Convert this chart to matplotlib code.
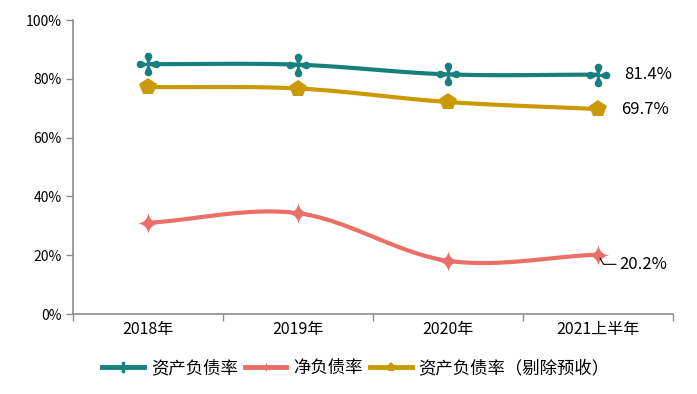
import numpy as np
import matplotlib
matplotlib.use("Agg")
import matplotlib.pyplot as plt
from matplotlib.path import Path
from matplotlib.lines import Line2D
from matplotlib.ticker import PercentFormatter

plt.rcParams['font.family'] = ['Noto Sans CJK SC', 'DejaVu Sans']

categories = ["2018年", "2019年", "2020年", "2021上半年"]
series_names = ["资产负债率", "净负债率", "资产负债率（剔除预收）"]
asset_liab = [85.0, 84.8, 81.5, 81.4]
net_debt = [31.0, 34.3, 18.1, 20.2]
asset_liab_ex = [77.2, 76.7, 72.1, 69.7]
end_labels = ["81.4%", "20.2%", "69.7%"]

colors = ["#17807e", "#ea6f68", "#c99a06"]

def catmull(x, y, n=40):
    x = np.asarray(x, float); y = np.asarray(y, float)
    P = np.column_stack([x, y])
    P = np.vstack([2*P[0]-P[1], P, 2*P[-1]-P[-2]])
    out = []
    for i in range(1, len(P)-2):
        p0, p1, p2, p3 = P[i-1], P[i], P[i+1], P[i+2]
        t = np.linspace(0, 1, n)[:, None]
        seg = 0.5*((2*p1) + (-p0+p2)*t + (2*p0-5*p1+4*p2-p3)*t**2 + (-p0+3*p1-3*p2+p3)*t**3)
        out.append(seg if i == len(P)-3 else seg[:-1])
    s = np.vstack(out)
    return s[:, 0], s[:, 1]

# custom markers: four-lobed clover (teardrop lobes around a small centre)
th = np.linspace(0, 2*np.pi, 720, endpoint=False)
d, a = 0.68, 0.32
r = np.full_like(th, 0.2)
for k in range(4):
    phi = th - k*np.pi/2
    disc = a**2 - (d*np.sin(phi))**2
    far = np.where((disc >= 0) & (np.cos(phi) > 0), d*np.cos(phi) + np.sqrt(np.clip(disc, 0, None)), 0)
    r = np.maximum(r, far)
cl = np.column_stack([r*np.cos(th), r*np.sin(th)])
clover = Path(np.vstack([cl, cl[:1]]))
p = 0.58
rs = 1.0/(np.abs(np.cos(th))**p + np.abs(np.sin(th))**p)**(1/p)
st = np.column_stack([rs*np.cos(th), rs*np.sin(th)])
star4 = Path(np.vstack([st, st[:1]]))

fig = plt.figure(figsize=(6.97, 3.94), dpi=100)
ax = fig.add_axes([73/697, 1-314/394, 600/697, 294/394])

x = np.arange(len(categories))
series = [asset_liab, net_debt, asset_liab_ex]
markers = [clover, star4, 'p']
msizes = [17, 16, 13]
for ys, c, m, ms in zip(series, colors, markers, msizes):
    sx, sy = catmull(x, ys)
    ax.plot(sx, sy, color=c, lw=3, solid_capstyle='round', zorder=2)
    ax.plot(x, ys, ls='none', marker=m, markersize=ms, color=c, markeredgewidth=0, zorder=3)

ax.set_xlim(-0.5, len(categories)-0.5)
ax.set_ylim(0, 100)
ax.set_yticks(np.arange(0, 101, 20))
ax.yaxis.set_major_formatter(PercentFormatter(decimals=0))
ax.set_xticks(np.arange(-0.5, len(categories)), minor=False)
ax.set_xticklabels([])
ax.set_xticks(x, minor=True)
ax.set_xticklabels(categories, minor=True, fontsize=11.5)
ax.tick_params(axis='x', which='minor', length=0, pad=5)
ax.tick_params(axis='x', which='major', length=5, color='#8c8c8c', width=1)
ax.tick_params(axis='y', length=5, color='#8c8c8c', width=1, labelsize=10, pad=3)
for s in ['top', 'right']:
    ax.spines[s].set_visible(False)
for s in ['left', 'bottom']:
    ax.spines[s].set_color('#8c8c8c')
    ax.spines[s].set_linewidth(1.2)

# end labels
ax.annotate(end_labels[0], (x[-1], asset_liab[-1]), xytext=(19, 0), textcoords='offset points',
            va='center', ha='left', fontsize=12)
ax.annotate(end_labels[2], (x[-1], asset_liab_ex[-1]), xytext=(17, 0), textcoords='offset points',
            va='center', ha='left', fontsize=12)
ax.annotate(end_labels[1], (x[-1], net_debt[-1]), xytext=(15, -7), textcoords='offset points',
            va='center', ha='left', fontsize=12,
            arrowprops=dict(arrowstyle='-', color='black', lw=0.8,
                            connectionstyle='angle,angleA=0,angleB=-60,rad=0', shrinkA=0, shrinkB=3))

handles = [Line2D([], [], color=c, lw=3.5, marker=m, markersize=ms*0.5, markeredgewidth=0)
           for c, m, ms in zip(colors, markers, [17, 15, 13])]
fig.legend(handles, series_names, loc='center', bbox_to_anchor=(356/697, 1-368/394), ncol=3,
           frameon=False, fontsize=12.5, handlelength=2.4, handletextpad=0.4, columnspacing=0.4)

fig.savefig("out.png", dpi=100)
